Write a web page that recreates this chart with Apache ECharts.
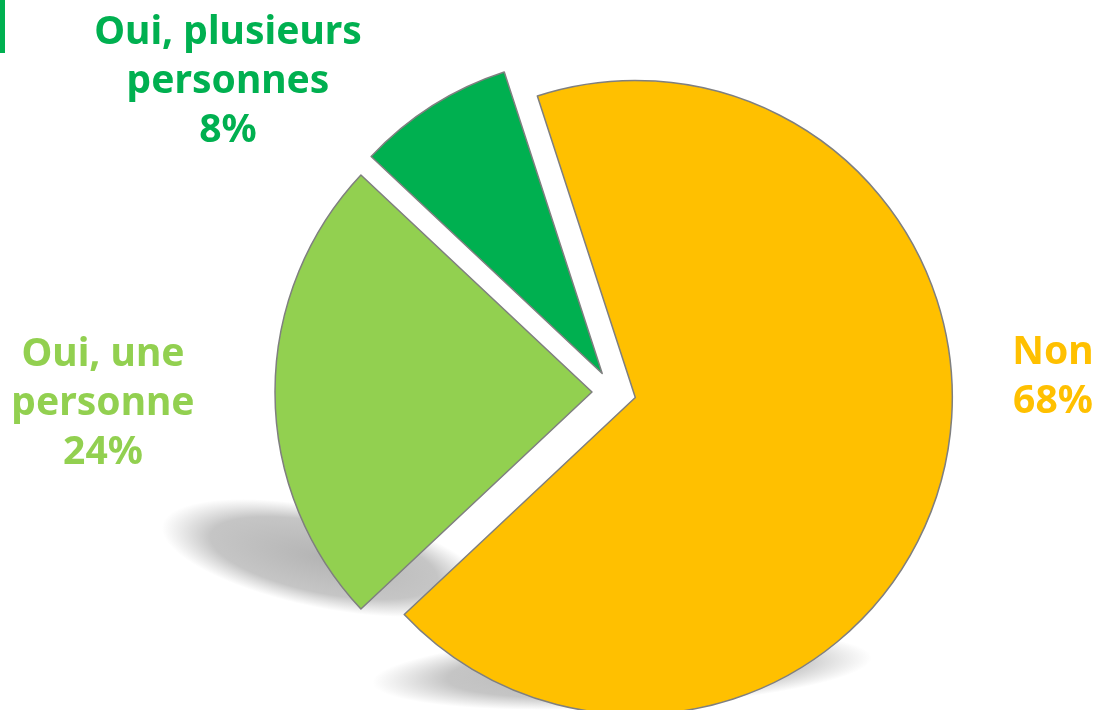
<!DOCTYPE html>
<html>
<head>
<meta charset="utf-8">
<script src="https://cdn.jsdelivr.net/npm/echarts@6/dist/echarts.min.js"></script>
<style>
  html, body { margin: 0; padding: 0; background: #fff; }
  #chart { width: 1098px; height: 710px; }
</style>
</head>
<body>
<div id="chart"></div>
<script>
// data
const categories = ['Non', 'Oui, une personne', 'Oui, plusieurs personnes']
const labelTexts = ['Non', 'Oui, une\npersonne', 'Oui, plusieurs\npersonnes']
const values = [68, 24, 8]
const colors = ['#FFC000', '#92D050', '#00B050']

// label anchor points (centre of each text block)
const labelPos = [
  { x: 1053, y: 377 },
  { x: 103, y: 404 },
  { x: 228, y: 82 }
]

const pieCenter = [614, 392]
const pieRadius = 317

const chart = echarts.init(document.getElementById('chart'))

// soft flattened shadow blob
function shadowBlob(dx, dy, rx, ry, rot) {
  return {
    type: 'circle',
    x: pieCenter[0] + dx,
    y: pieCenter[1] + dy,
    scaleY: ry / rx,
    rotation: rot,
    z: -10,
    silent: true,
    shape: { cx: 0, cy: 0, r: rx },
    style: {
      fill: {
        type: 'radial', x: 0.5, y: 0.5, r: 0.5,
        colorStops: [
          { offset: 0, color: 'rgba(140,140,140,0.65)' },
          { offset: 0.7, color: 'rgba(150,150,150,0.55)' },
          { offset: 1, color: 'rgba(160,160,160,0)' }
        ]
      }
    }
  }
}

const labels = categories.map((name, i) => ({
  type: 'text',
  x: labelPos[i].x,
  y: labelPos[i].y,
  z: 10,
  style: {
    text: labelTexts[i] + '\n' + values[i] + '%',
    fill: colors[i],
    font: 'bold 39px "Noto Sans"',
    lineHeight: 49,
    align: 'center',
    verticalAlign: 'middle'
  }
}))

const option = {
  backgroundColor: '#fff',
  animation: false,
  graphic: [
    { type: 'rect', left: 0, top: 0, shape: { width: 5, height: 53 }, style: { fill: '#00B050' } },
    shadowBlob(-290, 166, 165, 50, -0.2),
    shadowBlob(8, 278, 250, 38, 0.05)
  ].concat(labels),
  series: [
    {
      type: 'pie',
      center: pieCenter,
      radius: pieRadius,
      startAngle: 108,
      clockwise: true,
      selectedMode: 'multiple',
      selectedOffset: 22,
      avoidLabelOverlap: false,
      emphasis: { disabled: true },
      itemStyle: {
        borderColor: '#7F7F7F',
        borderWidth: 1.5
      },
      label: { show: false },
      labelLine: { show: false },
      data: categories.map((name, i) => ({
        name: name,
        value: values[i],
        selected: true,
        itemStyle: { color: colors[i] },
        select: { itemStyle: { color: colors[i], borderColor: '#7F7F7F', borderWidth: 1.5 } }
      }))
    }
  ]
}

chart.setOption(option)
</script>
</body>
</html>
